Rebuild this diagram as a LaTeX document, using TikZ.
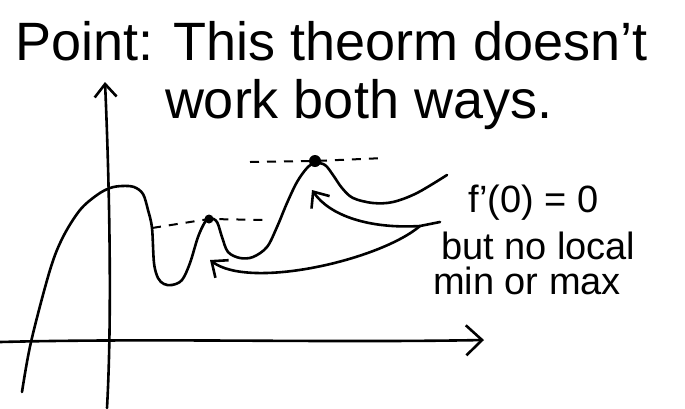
\documentclass[tikz,border=0pt]{standalone}
\usepackage{fontspec}
\setmainfont{Liberation Sans}
\usetikzlibrary{arrows.meta}

\begin{document}
\begin{tikzpicture}[
    x=1pt, y=-1pt,
    every node/.style = {inner sep=0pt, outer sep=0pt},
    pen/.style    = {line width=2.6pt, line cap=round, line join=round},
    guide/.style  = {line width=2pt, dash pattern=on 9pt off 8pt},
    barb/.style   = {-{Straight Barb[length=13pt, width=22pt, line width=2.6pt]}},
    bigbarb/.style= {-{Straight Barb[length=16pt, width=30pt, line width=2.6pt]}},
    dot/.style    = {fill=black, circle},
    title/.style  = {font=\fontsize{54}{60}\selectfont, anchor=base west},
    note/.style   = {font=\fontsize{38}{42}\selectfont, anchor=base west},
]
\useasboundingbox (0,0) rectangle (685,408);

%% Heading
\node[title] (title1) at (15,60)  {Point: This theorm doesn't};
\node[title] (title2) at (165,118) {work both ways.};

%% Axes
\coordinate (xstart) at (0,342);
\coordinate (xtip)   at (484,340);
\coordinate (ystart) at (107,408);
\coordinate (ytip)   at (105,82);
\draw[pen, bigbarb] (xstart) .. controls (160,338) and (320,343) .. (xtip);
\draw[pen, barb] (ystart) .. controls (113,300) and (108,150) .. (ytip);

%% The function
\draw[pen] plot[smooth, tension=0.55] coordinates {
    (22,392) (31,342) (50,270) (63,237) (80,210) (97,195) (110,188)
    (122,186) (134,187) (143,194) (148,210) (152,228) (154,263)
    (158,278) (164,284) (172,285) (182,280) (190,263) (198,237)
    (205,222) (210,218) (217,222) (222,237) (228,252) (240,258)
    (253,257) (267,247) (277,227) (287,203) (297,182) (307,168)
    (315,163) (325,165) (333,175) (342,188) (353,198) (373,203)
    (393,202) (417,193) (447,175)};

%% Horizontal tangents
\coordinate (hi) at (315,161);
\coordinate (lo) at (209,219);
\draw[guide] (250,162) -- (hi) -- (385,158);
\draw[guide] (152,228) -- (lo) -- (268,220);
\node[dot, minimum size=12pt] (hidot) at (hi) {};
\node[dot, minimum size=9pt]  (lodot) at (lo) {};

%% Note
\node[note] (lbla) at (468,212) {f'(0) = 0};
\node[note] (lblb) at (441,259) {but no local};
\node[note] (lblc) at (433,294) {min or max};

%% Pointers from the note
\coordinate (tail)   at (440,222);
\coordinate (fork)   at (420,226);
\coordinate (hitip)  at (312,190);
\coordinate (lotip)  at (210,260);
\draw[pen, barb] (tail) -- (fork) .. controls (370,229) and (330,216) .. (hitip);
\draw[pen, barb] (fork) .. controls (380,260) and (250,290) .. (lotip);

\end{tikzpicture}
\end{document}
